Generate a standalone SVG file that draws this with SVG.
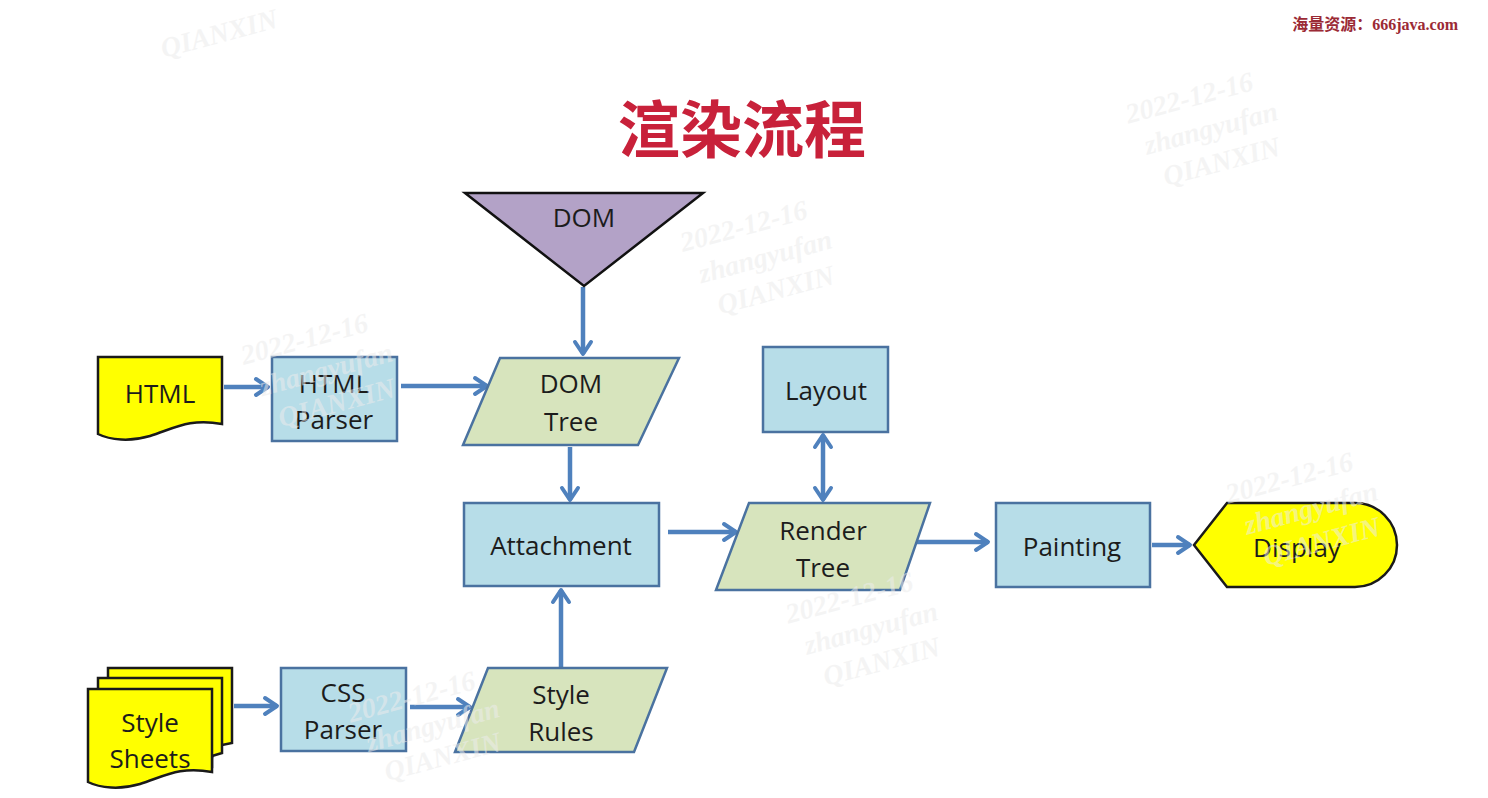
<svg xmlns="http://www.w3.org/2000/svg" width="1488" height="798" viewBox="0 0 1488 798">
<style>
.box{fill:#b7dde8;stroke:#4a72a0;stroke-width:2.5}
.data{fill:#d7e4bd;stroke:#4a72a0;stroke-width:2.5}
.doc{fill:#ffff00;stroke:#1a1a1a;stroke-width:2.5}
.tri{fill:#b3a2c7;stroke:#111;stroke-width:2.5}
.lbl{font-family:"Open Sans","Liberation Sans",sans-serif;font-size:26px;fill:#1c1c1c;text-anchor:middle;dominant-baseline:central}
.con{stroke:#4f81bd;stroke-width:4.5;fill:none}
.wm{font-family:"Liberation Serif",serif;font-style:italic;font-weight:bold;font-size:28px;fill:#ececec;fill-opacity:0.55}
</style>
<defs>
<marker id="arr" viewBox="0 0 18 22" refX="15" refY="11" markerWidth="18" markerHeight="22" markerUnits="userSpaceOnUse" orient="auto-start-reverse">
<path d="M3,3 L15,11 L3,19" fill="none" stroke="#4f81bd" stroke-width="4" stroke-linecap="round" stroke-linejoin="round"/>
</marker>
</defs>
<rect width="1488" height="798" fill="#ffffff"/>
<text id="source" x="1458" y="30" text-anchor="end" font-family="'Liberation Serif','Noto Sans CJK SC',serif" font-size="16" font-weight="bold" fill="#9b2a35">海量资源：666java.com</text>
<text id="title" x="742" y="153" text-anchor="middle" font-family="'Noto Sans CJK SC','Noto Sans CJK JP',sans-serif" font-size="62" font-weight="bold" fill="#c8213a">渲染流程</text>
<g id="connectors">
<path class="con" d="M224,387 H268" marker-end="url(#arr)"/>
<path class="con" d="M401,386 H487" marker-end="url(#arr)"/>
<path class="con" d="M583,287 V354" marker-end="url(#arr)"/>
<path class="con" d="M570,447 V500" marker-end="url(#arr)"/>
<path class="con" d="M561,667 V590" marker-end="url(#arr)"/>
<path class="con" d="M668,532 H736" marker-end="url(#arr)"/>
<path class="con" d="M823,435 V500" marker-start="url(#arr)" marker-end="url(#arr)"/>
<path class="con" d="M917,542 H988" marker-end="url(#arr)"/>
<path class="con" d="M1152,545 H1190" marker-end="url(#arr)"/>
<path class="con" d="M234,706 H277" marker-end="url(#arr)"/>
<path class="con" d="M410,707 H470" marker-end="url(#arr)"/>
</g>
<g id="html">
<path class="doc" d="M98,357 H222 V424 C190,418 175,428 150,436 C130,442 110,440 98,434 Z"/>
<text class="lbl" x="160" y="393">HTML</text>
</g>
<g id="html-parser">
<rect class="box" x="272" y="357" width="125" height="84"/>
<text class="lbl" x="334" y="383">HTML</text>
<text class="lbl" x="334" y="419">Parser</text>
</g>
<g id="dom">
<path class="tri" d="M465,193 H703 L584,286 Z"/>
<text class="lbl" x="584" y="217">DOM</text>
</g>
<g id="dom-tree">
<path class="data" d="M500,358 H679 L638,445 H463 Z"/>
<text class="lbl" x="571" y="383">DOM</text>
<text class="lbl" x="571" y="421">Tree</text>
</g>
<g id="attachment">
<rect class="box" x="464" y="503" width="195" height="83"/>
<text class="lbl" x="561" y="545">Attachment</text>
</g>
<g id="layout">
<rect class="box" x="763" y="347" width="125" height="85"/>
<text class="lbl" x="826" y="390">Layout</text>
</g>
<g id="render-tree">
<path class="data" d="M749,503 H930 L900,590 H716 Z"/>
<text class="lbl" x="823" y="530">Render</text>
<text class="lbl" x="823" y="567">Tree</text>
</g>
<g id="painting">
<rect class="box" x="996" y="503" width="154" height="84"/>
<text class="lbl" x="1072" y="546">Painting</text>
</g>
<g id="display">
<path class="doc" d="M1194,545 L1227,503 H1355 A42,42 0 0 1 1355,587 H1227 Z"/>
<text class="lbl" x="1297" y="547">Display</text>
</g>
<g id="style-sheets">
<path class="doc" d="M108,668 H232 V743 L212,747 V757 H108 Z"/>
<path class="doc" d="M98,678 H222 V753 L212,756 V767 H98 Z"/>
<path class="doc" d="M88,689 H212 V772 C180,766 165,776 140,784 C120,790 100,788 88,782 Z"/>
<text class="lbl" x="150" y="722">Style</text>
<text class="lbl" x="150" y="758">Sheets</text>
</g>
<g id="css-parser">
<rect class="box" x="281" y="668" width="125" height="83"/>
<text class="lbl" x="343" y="692">CSS</text>
<text class="lbl" x="343" y="729">Parser</text>
</g>
<g id="style-rules">
<path class="data" d="M488,668 H667 L634,752 H455 Z"/>
<text class="lbl" x="561" y="694">Style</text>
<text class="lbl" x="561" y="731">Rules</text>
</g>
<g id="watermarks">
<g transform="rotate(-15 200 40)"><text class="wm" x="160" y="48">QIANXIN</text></g>
<g transform="rotate(-15 1200 120)"><text class="wm" x="1130" y="105">2022-12-16</text><text class="wm" x="1140" y="140">zhangyufan</text><text class="wm" x="1150" y="175">QIANXIN</text></g>
<g transform="rotate(-15 760 250)"><text class="wm" x="685" y="232">2022-12-16</text><text class="wm" x="695" y="267">zhangyufan</text><text class="wm" x="705" y="302">QIANXIN</text></g>
<g transform="rotate(-15 320 360)"><text class="wm" x="245" y="345">2022-12-16</text><text class="wm" x="255" y="380">zhangyufan</text><text class="wm" x="265" y="415">QIANXIN</text></g>
<g transform="rotate(-15 1300 500)"><text class="wm" x="1230" y="485">2022-12-16</text><text class="wm" x="1240" y="520">zhangyufan</text><text class="wm" x="1250" y="555">QIANXIN</text></g>
<g transform="rotate(-15 860 620)"><text class="wm" x="790" y="605">2022-12-16</text><text class="wm" x="800" y="640">zhangyufan</text><text class="wm" x="810" y="675">QIANXIN</text></g>
<g transform="rotate(-15 420 730)"><text class="wm" x="355" y="705">2022-12-16</text><text class="wm" x="365" y="738">zhangyufan</text><text class="wm" x="375" y="771">QIANXIN</text></g>
</g>
</svg>
